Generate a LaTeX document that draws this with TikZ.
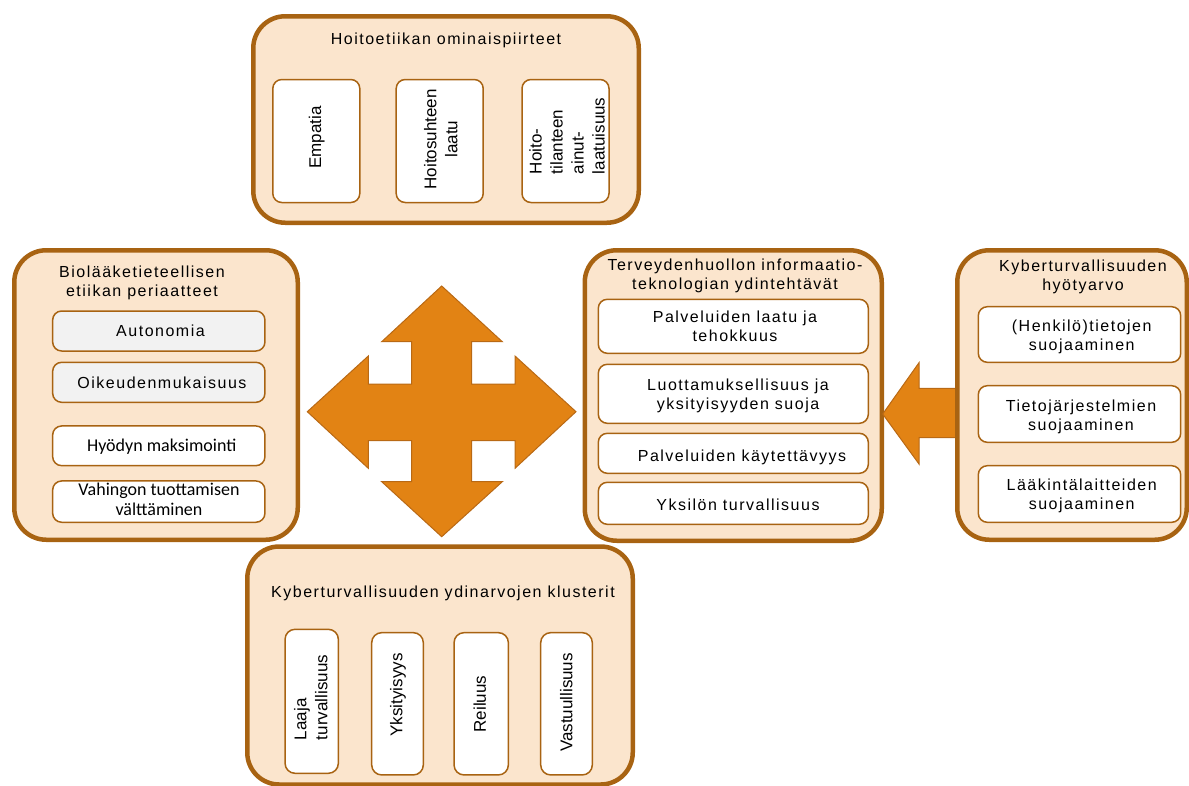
\documentclass[tikz,border=0pt]{standalone}
\usepackage{fontspec}
\setmainfont{Liberation Sans}[LetterSpace=9.4]
\newfontfamily\plainfont{Liberation Sans}
\newfontfamily\calibfont{Carlito}
\usetikzlibrary{calc}
\definecolor{brd}{RGB}{168,99,18}
\definecolor{peach}{RGB}{251,229,205}
\definecolor{arrowfill}{RGB}{226,131,20}
\definecolor{arrowbrd}{RGB}{185,105,20}
\definecolor{lgray}{RGB}{242,242,242}
\begin{document}
\begin{tikzpicture}[x=1pt,y=-1pt,
  bigbox/.style={draw=brd, line width=4.5pt, fill=peach, rounded corners=32pt, inner sep=0pt},
  inbox/.style={draw=brd, line width=1.5pt, fill=white, rounded corners=9pt, inner sep=0pt},
  gbox/.style={inbox, fill=lgray},
  htxt/.style={font=\fontsize{16}{19}\selectfont, align=center, inner sep=0pt},
  hone/.style={htxt, text height=11.5pt, text depth=3.5pt},
  ctxt/.style={font=\calibfont\fontsize{18}{20.5}\selectfont, align=center, inner sep=0pt},
  cone/.style={ctxt, text height=11.5pt, text depth=3.5pt},
  vtxt/.style={font=\plainfont\fontsize{17}{21}\selectfont, rotate=90, inner sep=0pt},
  vone/.style={vtxt, text height=12.2pt, text depth=3.6pt},
  blockarrow/.style={fill=arrowfill, draw=arrowbrd, line width=1pt, line join=miter}
]
\useasboundingbox (0,0) rectangle (1189,785);

% ---------- top box A ----------
\node[bigbox, minimum width=385.5pt, minimum height=206.5pt] (A) at (446,119.5) {};
\node[hone] (At) at (446,40) {Hoitoetiikan ominaispiirteet};
\node[inbox, minimum width=87pt, minimum height=123pt] (A1) at (316.3,141) {};
\node[inbox, minimum width=87pt, minimum height=123pt] (A2) at (439.7,141) {};
\node[inbox, minimum width=87pt, minimum height=123pt] (A3) at (565.5,141) {};
\node[vone] (A1t) at (316.7,137.5) {Empatia};
\node[vtxt, align=center] (A2t) at (440.7,139.2) {Hoitosuhteen\\laatu};
\node[vtxt, align=left] (A3t) at (567,135.8) {Hoito-\\tilanteen\\ainut-\\laatuisuus};

% ---------- left box B ----------
\node[bigbox, minimum width=283.5pt, minimum height=289.5pt] (B) at (156,395) {};
\node[htxt] (Bt) at (142,282.5) {Biolääketieteellisen\\etiikan periaatteet};
\node[gbox, minimum width=212.3pt, minimum height=40pt] (B1) at (158.8,331) {};
\node[gbox, minimum width=212.3pt, minimum height=40pt] (B2) at (158.8,382.3) {};
\node[inbox, minimum width=212.3pt, minimum height=39.7pt] (B3) at (158.8,445.8) {};
\node[inbox, minimum width=212.3pt, minimum height=41.3pt] (B4) at (158.8,501.6) {};
\node[hone] (B1t) at (160.5,332.6) {Autonomia};
\node[hone] (B2t) at (162,384) {Oikeudenmukaisuus};
\node[cone] (B3t) at (161.7,447.7) {Hyödyn maksimointi};
\node[ctxt] (B4t) at (159,499.5) {Vahingon tuottamisen\\välttäminen};

% ---------- centre box C ----------
\node[bigbox, minimum width=297pt, minimum height=290.5pt] (C) at (733.25,395.5) {};
\node[htxt] (Ct) at (735,275.9) {Terveydenhuollon informaatio-\\teknologian ydintehtävät};
\node[inbox, minimum width=270pt, minimum height=54pt] (C1) at (733.3,326.3) {};
\node[inbox, minimum width=270pt, minimum height=59pt] (C2) at (733.3,393.8) {};
\node[inbox, minimum width=270pt, minimum height=40pt] (C3) at (733.3,453.3) {};
\node[inbox, minimum width=270pt, minimum height=42pt] (C4) at (733.3,503.3) {};
\node[htxt] (C1t) at (735,326.6) {Palveluiden laatu ja\\tehokkuus};
\node[htxt] (C2t) at (738,395.9) {Luottamuksellisuus ja\\yksityisyyden suoja};
\node[hone] (C3t) at (742,457.7) {Palveluiden käytettävyys};
\node[hone] (C4t) at (738,506.7) {Yksilön turvallisuus};

% ---------- arrow C <- D ----------
\coordinate (tipCD) at (882.7,414);
\draw[blockarrow] (tipCD) -- (919,362.7) -- (919,388.3) -- (957,388.3) -- (957,437.7) -- (919,437.7) -- (919,464) -- cycle;

% ---------- right box D ----------
\node[bigbox, minimum width=229.5pt, minimum height=289.5pt] (D) at (1072,395) {};
\node[htxt] (Dt) at (1083,276.7) {Kyberturvallisuuden\\hyötyarvo};
\node[inbox, minimum width=202.4pt, minimum height=55.6pt] (D1) at (1079.5,334.5) {};
\node[inbox, minimum width=202.4pt, minimum height=56.6pt] (D2) at (1079.5,414) {};
\node[inbox, minimum width=202.4pt, minimum height=56.6pt] (D3) at (1079.5,494) {};
\node[htxt] (D1t) at (1081.7,337) {(Henkilö)tietojen\\suojaaminen};
\node[htxt] (D2t) at (1081,416.5) {Tietojärjestelmien\\suojaaminen};
\node[htxt] (D3t) at (1081.7,495.9) {Lääkintälaitteiden\\suojaaminen};

% ---------- bottom box E ----------
\node[bigbox, minimum width=385.5pt, minimum height=238pt] (E) at (440,665.5) {};
\node[hone] (Et) at (443,593.3) {Kyberturvallisuuden ydinarvojen klusterit};
\node[inbox, rounded corners=10pt, minimum width=53.3pt, minimum height=144pt] (E1) at (311.7,701.3) {};
\node[inbox, rounded corners=10pt, minimum width=51.6pt, minimum height=142.3pt] (E2) at (397.5,703.8) {};
\node[inbox, rounded corners=10pt, minimum width=54.3pt, minimum height=142.3pt] (E3) at (481.2,703.8) {};
\node[inbox, rounded corners=10pt, minimum width=51.6pt, minimum height=142.3pt] (E4) at (566.5,703.8) {};
\node[vtxt, align=left] (E1t) at (310.8,697.5) {Laaja\\turvallisuus};
\node[vone] (E2t) at (398,695) {Yksityisyys};
\node[vone] (E3t) at (481.5,704) {Reiluus};
\node[vone] (E4t) at (568,702.5) {Vastuullisuus};

% ---------- four-way arrow ----------
\draw[blockarrow]
  (441.7,286) -- (502.3,341.7) -- (471.7,341.7) -- (471.7,384) -- (515,384) -- (515,356)
  -- (576,411.7) -- (515,468.3) -- (515,440.7) -- (471.7,440.7) -- (471.7,481.7) -- (502.3,481.7)
  -- (441.7,536.7) -- (381.7,481.7) -- (411.7,481.7) -- (411.7,440.7) -- (368.3,440.7) -- (368.3,468.3)
  -- (307.3,411.7) -- (368.3,356) -- (368.3,384) -- (411.7,384) -- (411.7,341.7) -- (381.7,341.7) -- cycle;
\end{tikzpicture}
\end{document}
